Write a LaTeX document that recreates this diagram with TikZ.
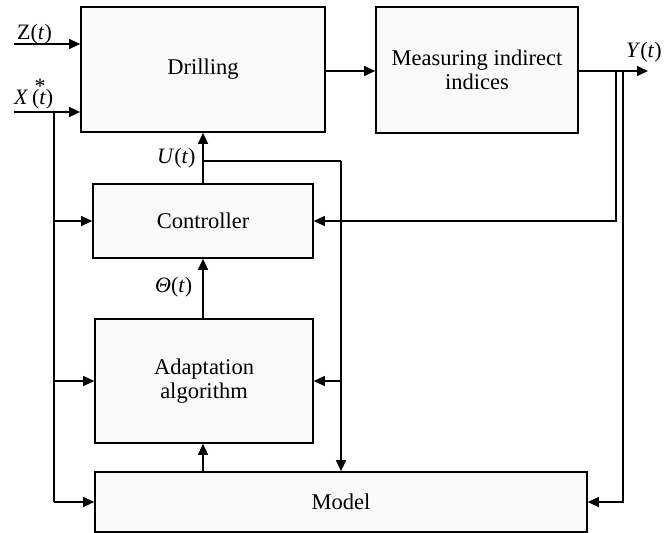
\documentclass[tikz,border=0pt]{standalone}
\usepackage{fontspec}
\setmainfont{Liberation Serif}
\usetikzlibrary{arrows.meta}
\begin{document}
\begin{tikzpicture}[x=1pt,y=-1pt,
  blk/.style={draw=black,line width=1.7pt,fill=black!2,inner sep=0pt,font=\fontsize{22.5}{24}\selectfont,align=center},
  conn/.style={line width=1.3pt,-{Triangle[length=11pt,width=10pt]}},
  plain/.style={line width=1.3pt},
  lbl/.style={inner sep=0pt,anchor=base west,font=\fontsize{22}{24}\selectfont}]
\useasboundingbox (0,0) rectangle (667,533);
% blocks
\node[blk,minimum width=244pt,minimum height=125pt] (drill) at (203,69.5) {Drilling};
\node[blk,minimum width=202pt,minimum height=126pt] (meas) at (477,70) {Measuring indirect\\indices};
\node[blk,minimum width=220pt,minimum height=74pt] (ctrl) at (203,221) {Controller};
\node[blk,minimum width=218pt,minimum height=124pt] (adapt) at (204,381) {Adaptation\\algorithm};
\node[blk,minimum width=492pt,minimum height=60pt] (model) at (341,502) {Model};
% coordinates
\coordinate (zin) at (14,44);
\coordinate (xin) at (14,112);
\coordinate (xb) at (54,112);
\coordinate (xbot) at (54,502);
\coordinate (xc) at (54,221);
\coordinate (xa) at (54,381);
\coordinate (yend) at (648,71);
\coordinate (ub) at (203,161);
\coordinate (ur) at (341,161);
\coordinate (ua) at (341,381);
\coordinate (y1) at (616,71);
\coordinate (y2) at (623,71);
% inputs
\draw[conn] (zin) -- (zin -| drill.west);
\draw[conn] (xin) -- (xin -| drill.west);
\draw[plain] (xb) -- (xbot);
\draw[conn] (xbot) -- (model.west);
\draw[conn] (xc) -- (ctrl.west);
\draw[conn] (xa) -- (adapt.west);
% drilling -> measuring -> output
\draw[conn] (drill.east |- yend) -- (meas.west |- yend);
\draw[conn] (meas.east |- yend) -- (yend);
\draw[conn] (y1) -- (y1 |- ctrl.east) -- (ctrl.east);
\draw[conn] (y2) -- (y2 |- model.east) -- (model.east);
% controller -> drilling, U branch
\draw[conn] (ctrl.north) -- (drill.south -| ctrl.north);
\draw[plain] (ub) -- (ur);
\draw[conn] (ur) -- (model.north -| ur);
\draw[conn] (ua) -- (adapt.east |- ua);
% adaptation -> controller, model -> adaptation
\draw[conn] (adapt.north -| ctrl.south) -- (ctrl.south);
\draw[conn] (model.north -| ctrl.south) -- (adapt.south -| ctrl.south);
% labels
\node[lbl] (zl) at (17,39) {Z(\textit{t})};
\node[lbl] (xl) at (14,104) {\textit{X}\,\rlap{\raisebox{0.5em}{\hspace{0.12em}*}}(\textit{t})};
\node[lbl] (ul) at (157,163) {\textit{U}(\textit{t})};
\node[lbl] (thl) at (155,292) {\textit{Θ}(\textit{t})};
\node[lbl] (yl) at (626,57) {\textit{Y}(\textit{t})};
\end{tikzpicture}
\end{document}
